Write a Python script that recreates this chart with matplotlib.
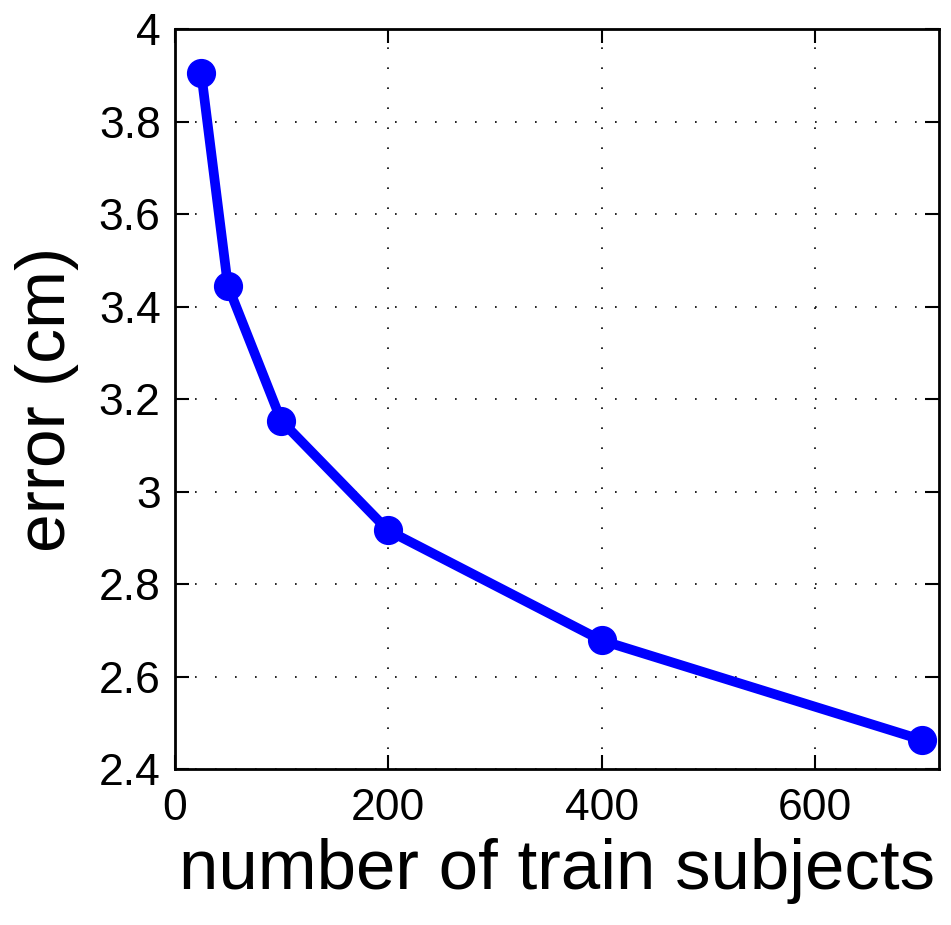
import matplotlib.pyplot as plt

plt.rcParams['font.family'] = ['Liberation Sans', 'DejaVu Sans']

train_subjects = [25, 50, 100, 200, 400, 700]
error_cm = [3.905, 3.445, 3.153, 2.916, 2.678, 2.463]
x_ticks = [0, 200, 400, 600]
y_ticks = [2.4, 2.6, 2.8, 3.0, 3.2, 3.4, 3.6, 3.8, 4.0]
y_labels = ['2.4', '2.6', '2.8', '3', '3.2', '3.4', '3.6', '3.8', '4']

fig = plt.figure(figsize=(9.51, 9.25), dpi=100)
ax = fig.add_axes([0.1835, 0.1686, 0.8039, 0.8])

ax.plot(train_subjects, error_cm, color='blue', linewidth=7,
        marker='o', markersize=20, solid_joinstyle='round')

ax.set_xlim(0, 716)
ax.set_ylim(2.4, 4.0)
ax.set_xticks(x_ticks)
ax.set_yticks(y_ticks)
ax.set_yticklabels(y_labels)
ax.tick_params(direction='in', length=10, width=1.5, labelsize=32,
               top=True, right=True)
ax.tick_params(axis='x', pad=14)
ax.tick_params(axis='y', pad=10)
ax.grid(True, color='black', linestyle=(0, (1, 11)), linewidth=1.2)
for s in ax.spines.values():
    s.set_linewidth(2)

ax.set_xlabel('number of train subjects', fontsize=51, labelpad=6)
ax.set_ylabel('error (cm)', fontsize=50, labelpad=14)

plt.savefig('out.png', dpi=100)
